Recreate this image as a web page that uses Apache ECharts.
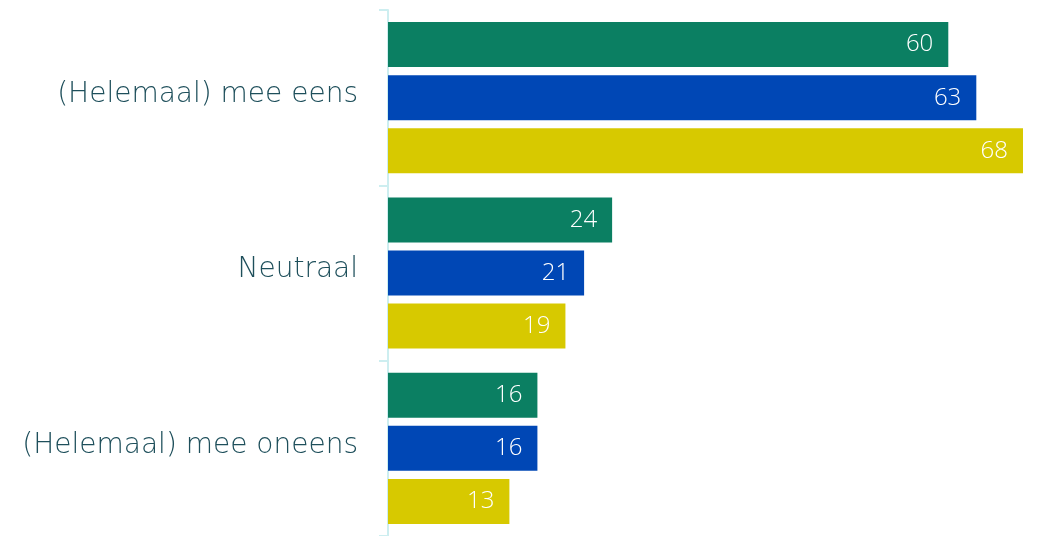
<!DOCTYPE html>
<html>
<head>
<meta charset="utf-8">
<script src="https://cdn.jsdelivr.net/npm/echarts@6/dist/echarts.min.js"></script>
<style>
  html, body { margin: 0; padding: 0; background: #ffffff; }
  #chart { width: 1038px; height: 536px; }
</style>
</head>
<body>
<div id="chart"></div>
<script>
// Answer categories (top to bottom)
const categories = ['(Helemaal) mee eens', 'Neutraal', '(Helemaal) mee oneens'];

// Percentages per measurement
const seriesNames = ['Meting 1', 'Meting 2', 'Meting 3'];
const valuesA = [60, 24, 16];
const valuesB = [63, 21, 16];
const valuesC = [68, 19, 13];

const colors = ['#0b7f62', '#0047b5', '#d7c900'];
const allValues = [valuesA, valuesB, valuesC];

const chart = echarts.init(document.getElementById('chart'), null, { renderer: 'canvas' });

const series = allValues.map((vals, i) => ({
  name: seriesNames[i],
  type: 'bar',
  data: vals,
  barWidth: 45,
  barGap: '18%',
  itemStyle: { color: colors[i] },
  label: {
    show: true,
    position: 'insideRight',
    distance: 15,
    color: '#ffffff',
    fontFamily: '"Open Sans", Lato, sans-serif',
    fontWeight: 300,
    fontSize: 24
  }
}));

chart.setOption({
  animation: false,
  backgroundColor: '#ffffff',
  grid: { left: 388, right: 15, top: 10, bottom: -4, containLabel: false },
  xAxis: {
    type: 'value',
    min: 0,
    max: 68,
    show: false
  },
  yAxis: {
    type: 'category',
    data: categories,
    inverse: true,
    axisLine: { show: true, lineStyle: { color: '#cdeef0', width: 2 } },
    axisTick: { show: true, length: 9, lineStyle: { color: '#cdeef0', width: 2 } },
    axisLabel: {
      margin: 30,
      color: '#1e4f5b',
      fontFamily: '"DejaVu Sans", "Open Sans", sans-serif',
      fontWeight: 200,
      fontSize: 28,
      verticalAlign: 'bottom',
      lineHeight: 6
    },
    splitLine: { show: false }
  },
  series: series
});
</script>
</body>
</html>
